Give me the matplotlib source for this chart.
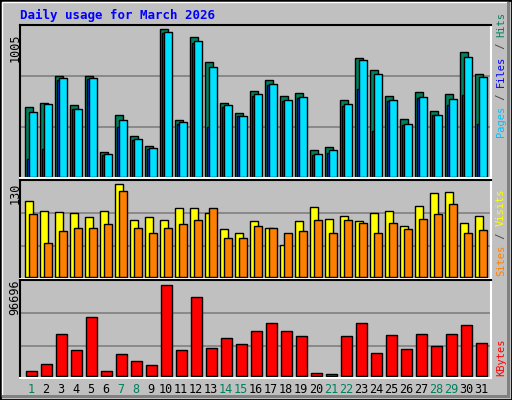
import matplotlib
matplotlib.use("Agg")
import matplotlib.pyplot as plt
import numpy as np
from matplotlib.patches import Rectangle

days = list(range(1, 32))
weekend = [1, 7, 8, 14, 15, 21, 22, 28, 29]
hits = [473, 500, 685, 487, 685, 166, 419, 275, 207, 1005, 385, 951, 780, 500, 432, 582,
        657, 548, 569, 180, 200, 521, 807, 725, 548, 391, 575, 446, 562, 848, 698]
pages = [439, 494, 671, 460, 671, 153, 385, 255, 194, 985, 371, 923, 746, 487, 412, 562,
         630, 521, 541, 153, 180, 494, 794, 698, 521, 357, 541, 419, 528, 814, 678]
files = [119, 187, 657, 460, 664, 146, 337, 248, 187, 977, 357, 910, 337, 473, 412, 548,
         623, 514, 535, 146, 160, 480, 596, 310, 514, 351, 535, 419, 487, 555, 357]
visits = [107, 93, 91, 89, 84, 93, 130, 79, 84, 79, 96, 96, 89, 67, 62, 78,
          69, 44, 78, 98, 81, 85, 78, 89, 93, 71, 99, 117, 119, 75, 86]
sites = [88, 48, 64, 68, 69, 74, 120, 69, 62, 68, 74, 79, 96, 54, 55, 71,
         69, 62, 64, 79, 62, 79, 75, 62, 76, 67, 81, 88, 102, 62, 65]
kbytes = [4588, 12000, 43760, 26820, 62817, 4588, 22586, 15175, 10940, 96696, 26820, 83992,
          28938, 39525, 33173, 46937, 55406, 46937, 41643, 2470, 1412, 41643, 55406, 23645,
          42701, 27880, 43760, 31056, 43760, 53289, 34232]

W, H = 512, 400
fig = plt.figure(figsize=(W/100, H/100), dpi=100)
fig.patch.set_facecolor('#c0c0c0')
fig.patches.append(Rectangle((0, 0), 1, 1, transform=fig.transFigure, fill=False,
                             edgecolor='black', lw=2))
fig.patches.append(Rectangle((2/W, 4/H), (W-6)/W, (H-6)/H, transform=fig.transFigure,
                             fill=False, edgecolor='white', lw=1))
fig.patches.append(Rectangle((2/W, 2/H), (W-4)/W, 3/H, transform=fig.transFigure,
                             color='#808080', lw=0))
fig.patches.append(Rectangle((1-5/W, 2/H), 3/W, (H-4)/H, transform=fig.transFigure,
                             color='#808080', lw=0))

mono = 'DejaVu Sans Mono'
x = np.array(days)
XL = (0.267, 31.667)

def mkax(top, bot):
    ax = fig.add_axes([20/W, 1-bot/H, 471/W, (bot-top)/H])
    ax.set_facecolor('#c0c0c0')
    ax.set_xlim(*XL)
    ax.set_xticks([]); ax.set_yticks([])
    for s in ['top', 'left']:
        ax.spines[s].set_color('black')
    for s in ['bottom', 'right']:
        ax.spines[s].set_color('white')
    for s in ax.spines.values():
        s.set_linewidth(1.5)
    return ax

def grid(ax, fr):
    for f in fr:
        ax.plot([0, 1], [f, f], transform=ax.transAxes, color='#808080', lw=1.2, zorder=0)

kw = dict(align='edge', edgecolor='black', linewidth=1, zorder=2)

ax1 = mkax(25, 178)
ax1.set_ylim(-1.3*6.82, 1005*153/148.7)
grid(ax1, [(178-127.3)/153, (178-76.3)/153])
ax1.bar(x-0.38, hits, width=0.49, color='#00805c', **kw)
ax1.bar(x-0.25, files, width=0.3, color='#0040ff', **kw)
ax1.bar(x-0.113, pages, width=0.49, color='#00e0ff', **kw)
fig.text(15/W, 1-48/H, '1005', rotation=90, fontsize=8.5, family=mono, ha='center', va='center')

ax2 = mkax(180, 279)
ax2.set_ylim(-2.3*1.407, 130*(99/94.7))
grid(ax2, [(279-246.3)/99, (279-213.3)/99])
ax2.bar(x-0.38, visits, width=0.53, color='#ffff00', **kw)
ax2.bar(x-0.113, sites, width=0.49, color='#ff8000', **kw)
fig.text(15/W, 1-193/H, '130', rotation=90, fontsize=8.5, family=mono, ha='center', va='center')

ax3 = mkax(280, 378)
ax3.set_ylim(-2.3*96696/91.3, 96696*(98/93.3))
grid(ax3, [(378-346)/98, (378-313.3)/98])
ax3.bar(x-0.313, kbytes, width=0.69, color='#ff0000', **kw)
fig.text(15/W, 1-297/H, '96696', rotation=90, fontsize=8.5, family=mono, ha='center', va='center')

for d in days:
    ax3.text(d, -0.05, str(d), transform=ax3.get_xaxis_transform(), ha='center', va='top',
             fontsize=8.5, family=mono, color='#00805c' if d in weekend else 'black')

fig.text(20/W, 1-15/H, 'Daily usage for March 2026', fontsize=9, family=mono,
         weight='bold', color='#0000ff', va='center')

FS = 7.5
CW = FS * 100/72 * 0.602

def vlegend(xp, ybot, parts):
    y = ybot
    for txt, col in parts:
        fig.text(xp/W, y/H, txt, rotation=90, fontsize=FS, family=mono, color=col,
                 ha='center', va='bottom')
        y += len(txt) * CW
vlegend(501, H-137, [('Pages', '#00c0ff'), (' / ', '#404040'), ('Files', '#0000ff'),
                     (' / ', '#404040'), ('Hits', '#00805c')])
vlegend(501, H-276, [('Sites', '#ff8000'), (' / ', '#404040'), ('Visits', '#ffff00')])
vlegend(501, H-376, [('KBytes', '#ff0000')])

fig.savefig('out.png', dpi=100, facecolor=fig.get_facecolor())
